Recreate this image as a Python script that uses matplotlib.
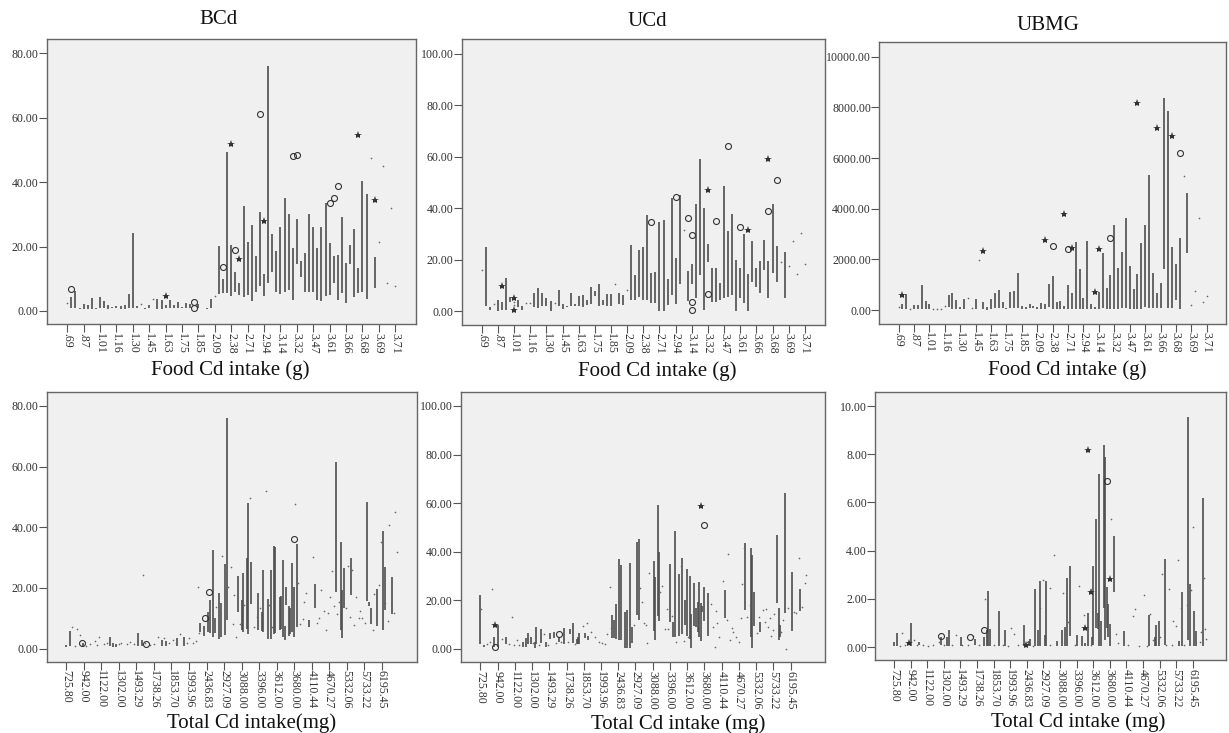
# -*- coding: utf-8 -*-
import matplotlib
matplotlib.use('Agg')
import matplotlib.pyplot as plt

plt.rcParams['font.family'] = ['Liberation Serif', 'DejaVu Serif']

W, H = 1229, 733

food_labels = ['.69', '.87', '1.01', '1.16', '1.30', '1.45', '1.63', '1.75', '1.85', '2.09', '2.38',
               '2.71', '2.94', '3.14', '3.32', '3.47', '3.61', '3.66', '3.68', '3.69', '3.71']
total_labels = ['725.80', '942.00', '1122.00', '1302.00', '1493.29', '1738.26', '1853.70', '1993.96',
                '2436.83', '2927.09', '3088.00', '3396.00', '3612.00', '3680.00', '4110.44', '4670.27',
                '5332.06', '5733.22', '6195.45']

# (category, low, high)
bcd_food_bars = [(1, .8, 4.3), (2, .8, 6.2), (3, .7, 1), (4, .5, 2.3), (5, .5, 2), (6, .5, 4), (7, .5, 1),
                 (8, .8, 4.2), (9, 1, 3.2), (10, .5, 2), (11, 1, 1.2), (12, 1, 1.5), (13, .5, 1.5), (14, .5, 1.8),
                 (15, 1, 5.2), (16, 1, 24.3), (17, .8, 1.5), (19, .7, 1), (20, .8, 1.8), (22, .7, 3.8), (23, .7, 3.5),
                 (24, .8, 1.8), (25, 1, 3.5), (26, 1, 2), (27, 1, 2.8), (28, 1, 1.2), (29, 1, 2.6), (30, .8, 2.3),
                 (32, .8, 2.3), (33, .5, .7), (34, .7, 1), (35, 1, 3.7), (37, 5.2, 20.2), (38, 5.5, 10), (39, 5.5, 49.5),
                 (40, 4.5, 20.5), (41, 6, 12), (42, 5, 8.8), (43, 4.2, 32.5), (44, 5, 21.3), (45, 3.2, 26.8),
                 (46, 5.8, 17), (47, 7.8, 30.6), (48, 4.7, 11.6), (49, 8.7, 76), (50, 12, 23.8), (51, 6, 18.5),
                 (52, 5.3, 26), (53, 6, 35), (54, 6.5, 30), (55, 3.5, 19.6), (56, 14.5, 28.6), (57, 10.5, 15.4),
                 (58, 6, 18), (59, 6, 30), (60, 5.8, 26), (61, 3.5, 19.5), (62, 3, 26), (63, 4.5, 33.7), (64, 5, 21),
                 (65, 8.8, 17), (66, 3.5, 17.4), (67, 5.7, 29.2), (68, 2.5, 14.8), (69, 14.5, 20.4), (70, 4.3, 25.6),
                 (71, 5.5, 13.5), (72, 5.8, 40.5), (73, 3.8, 36.2), (75, 7, 16.7)]
bcd_food_dots = [(0, 2.5), (18, 2.3), (21, 3.7), (36, 4.8), (74, 47.5), (76, 21.3), (77, 45), (78, 8.6), (79, 32), (80, 7.9)]
bcd_food_circles = [(1, 6.7), (31, 2.9), (31, .8), (38, 13.8), (41, 18.8), (47, 61.2), (55, 48), (56, 48.5),
                    (64, 33.5), (65, 35.2), (66, 38.7)]
bcd_food_stars = [(24, 4.8), (40, 52), (42, 16), (48, 27.8), (71, 54.8), (75, 34.4)]

ucd_food_bars = [(1, 2, 25), (2, .5, 1.5), (4, .3, 4.5), (5, .5, 3.5), (6, .5, 13), (7, 3.5, 5.5), (9, 1.5, 4.5),
                 (10, .5, 2), (13, 1.5, 7), (14, 1.3, 9), (15, 2, 7), (16, 2, 5), (17, .2, 4), (19, 2, 8.3), (20, 1, 3),
                 (21, 1.5, 2), (22, 2, 7), (23, 2, 3), (24, 2, 6), (25, 1.8, 6.2), (26, 2.3, 4.5), (27, 2.8, 9.5),
                 (28, 6, 8), (29, 2.2, 10.8), (30, 2.5, 4.5), (31, 2, 6.7), (32, 2, 6.8), (34, 2.8, 7.3), (35, 2.5, 6.5),
                 (37, 4.5, 25.7), (38, 4.5, 14), (39, 5.5, 23.8), (40, 4.5, 25), (41, 4.5, 37.2), (42, 3.3, 15),
                 (43, 3.3, 15.2), (44, .3, 34.5), (45, .3, 35.5), (46, 2.5, 12.5), (47, 6.2, 43.8), (48, 3, 20.8),
                 (49, 10.7, 45.3), (51, 4.2, 15.7), (52, 10.5, 18.5), (53, 5, 41.7), (54, 14, 59.2), (55, .5, 40),
                 (56, 19, 26), (57, 3.5, 17), (58, 3.5, 16.8), (59, 4.5, 11), (60, 5, 48.7), (61, 5.5, 31), (62, 6.5, 37.7),
                 (63, 0, 20), (64, 5.3, 17), (65, 3.2, 30.2), (66, .3, 14.3), (67, 11.2, 27.3), (68, 9.5, 17), (69, 7, 19.5),
                 (70, 16, 27.5), (71, 5, 19.5), (72, 15, 41.5), (73, 11.5, 25.3), (75, 5.3, 23)]
ucd_food_dots = [(0, 16), (3, 3), (8, 2.5), (8, 3.5), (11, 3.3), (12, 3.3), (18, 3.2), (33, 10.5), (36, 8.3), (50, 31.5),
                 (74, 19), (76, 17.7), (77, 27.2), (78, 14.5), (79, 30.5), (80, 18.3)]
ucd_food_circles = [(42, 34.7), (48, 44.3), (51, 36.2), (52, 29.5), (52, 3.6), (52, .6), (56, 6.7), (58, 34.9),
                    (61, 64), (64, 32.8), (71, 38.9), (73, 51)]
ucd_food_stars = [(5, 10), (8, 5), (8, .6), (56, 47), (66, 31.5), (71, 59)]

ubmg_food_bars = [(1, 30, 220), (2, 30, 630), (4, 30, 180), (5, 30, 200), (6, 30, 1000), (7, 50, 350), (8, 50, 230),
                  (13, 100, 600), (14, 50, 680), (15, 50, 380), (16, 30, 130), (17, 50, 420), (20, 30, 430), (22, 50, 330),
                  (23, 20, 100), (24, 50, 420), (25, 70, 680), (26, 70, 800), (27, 70, 300), (28, 30, 80), (29, 70, 730),
                  (30, 70, 750), (31, 80, 1480), (32, 60, 150), (33, 40, 100), (34, 80, 250), (35, 70, 150), (36, 50, 110),
                  (37, 60, 260), (38, 50, 250), (39, 100, 1030), (40, 50, 1360), (41, 50, 320), (42, 50, 370), (43, 30, 150),
                  (44, 30, 980), (45, 50, 690), (46, 60, 2700), (47, 40, 1600), (48, 50, 480), (49, 50, 2720), (50, 50, 250),
                  (51, 40, 120), (52, 50, 700), (53, 70, 2250), (54, 60, 850), (55, 60, 1380), (56, 60, 3340), (57, 60, 1640),
                  (58, 80, 2280), (59, 80, 3630), (60, 60, 1750), (61, 60, 830), (62, 60, 1430), (63, 60, 2630), (64, 120, 3340),
                  (65, 80, 5320), (66, 70, 1480), (67, 70, 680), (68, 70, 1060), (69, 1600, 8370), (70, 80, 7870), (71, 80, 2500),
                  (72, 400, 1800), (73, 40, 2840), (75, 2270, 4620)]
ubmg_food_dots = [(0, 100), (3, 50), (9, 50), (10, 30), (11, 40), (12, 150), (18, 480), (19, 80), (21, 1980), (74, 5280),
                  (76, 200), (77, 750), (78, 3620), (79, 330), (80, 550)]
ubmg_food_circles = [(40, 2530), (44, 2390), (55, 2850), (73, 6200)]
ubmg_food_stars = [(1, 600), (22, 2330), (38, 2770), (43, 3800), (45, 2440), (51, 700), (52, 2390), (62, 8170), (67, 7200), (71, 6880)]

bcd_total_bars = [(0, .5, 1.3), (3, .9, 5.8), (15, .5, 2), (40, 1, 4), (43, .5, 2), (45, .5, 1.5), (65, 1, 5), (69, 1, 3),
                  (87, 1, 3), (91, 1, 2.5), (101, 1, 3.5), (107, 1, 4), (122, 5.5, 8.5), (126, 4.3, 7.5), (129, 5.5, 12),
                  (131, 5, 16.2), (134, 4, 32.5), (136, 5, 10), (139, 3.2, 18.3), (141, 4, 15.2), (145, 4.6, 27.8),
                  (147, 9.5, 76), (157, 12, 23.8), (160, 6, 16), (161, 5.5, 25), (165, 6.5, 30), (166, 4.7, 48),
                  (169, 14.7, 28.6), (175, 6.2, 18.2), (179, 5.8, 12.2), (180, 5.5, 26), (184, 3.3, 16.5), (187, 3.3, 26),
                  (190, 4.7, 33.7), (191, 5, 33.5), (195, 6, 17), (196, 6.5, 17.5), (198, 4, 29.2), (200, 2.7, 7.5),
                  (201, 14.5, 20.4), (203, 4.3, 14), (204, 4.7, 13.5), (206, 5.5, 28.2), (208, 3.7, 20.2), (211, 7, 34.5),
                  (222, 7, 9.3), (227, 13.5, 21.3), (246, 18.7, 61.5), (251, 6.2, 35), (252, 3.5, 19.2), (254, 13.5, 26.7),
                  (260, 17.7, 30), (275, 15.7, 48.5), (276, 14, 15.5), (278, 8, 13.3), (284, 7.5, 19.5), (289, 6.3, 38.8),
                  (291, 12.7, 27), (297, 11.5, 23.5)]
bcd_total_dots = [(5, 7), (10, 6.4), (12, 4.4), (8, 1), (18, 1), (22, 1.5), (26, 2.5), (28, 1.2), (30, 4), (34, 1.5), (37, 2),
                  (48, 1.5), (50, 2), (55, 1.5), (58, 2.2), (62, 1.5), (70, 24.4), (72, 2), (76, 1.2), (80, 1.5), (84, 4), (89, 3.5),
                  (94, 2), (97, 3), (100, 2), (104, 4.8), (110, 2), (112, 3.5), (116, 1.8), (118, 2.5), (120, 20.2), (121, 5), (142, 30.6),
                  (137, 13.6), (150, 26.8), (148, 20.4), (153, 17.7), (152, 8), (155, 3.7), (159, 8), (162, 14.4), (168, 49.5),
                  (171, 7), (174, 10.5), (177, 13.5), (182, 52), (185, 14.5), (188, 7), (209, 47.7), (212, 21.5), (213, 8), (216, 9.7),
                  (217, 15.3), (219, 18.5), (225, 30.3), (229, 8.6), (233, 19.3), (231, 10), (235, 12.5), (237, 6.2), (239, 11.6),
                  (241, 17), (243, 25.6), (244, 14), (247, 11.4), (249, 15.5), (255, 13.5), (257, 27.2), (259, 10.5), (261, 26),
                  (263, 7.8), (265, 17), (268, 12.5), (267, 10), (270, 10), (273, 8.4), (280, 6), (281, 18), (286, 21), (287, 35.3),
                  (291, 15), (294, 9), (295, 40.6), (300, 45.2), (302, 32), (299, 11.6)]
bcd_total_circles = [(14, 2), (73, 1.5), (127, 10), (130, 18.8), (208, 36.2)]
bcd_total_stars = []

ucd_total_bars = [(0, 2, 22), (3, 1, 1.8), (13, 1, 4.8), (16, 1, 9.7), (24, 2, 5), (40, 1, 3), (42, 1, 4.5), (44, 2, 6.6),
                  (47, 2, 5), (51, .5, 3), (52, 2, 9.2), (56, 2.5, 8), (61, 1, 3), (65, 4, 6.5), (68, 4.5, 6.8), (73, 3, 5),
                  (78, 2, 8.5), (83, 6, 8), (86, 2.5, 10.8), (90, 2, 4), (91, 2, 5), (92, 2, 6.5), (97, 4.5, 6.5), (100, 3.5, 5.5),
                  (122, 4.5, 14), (124, 4.5, 12), (126, 4, 18.5), (129, 3.7, 37), (131, 3.5, 34.7), (134, .2, 15.2), (136, .2, 16),
                  (139, .2, 35.5), (141, 2.3, 9.2), (145, 14, 44.2), (147, 12, 45.3), (161, 7.5, 36.2), (162, 3.5, 29.5),
                  (165, 13.5, 59.2), (166, 11.5, 40), (176, 11, 35), (179, 5, 11), (181, 5, 48.7), (184, 5.5, 31), (187, 6.2, 37.6),
                  (190, 10, 20), (192, 5.5, 32.7), (195, 4, 30.2), (196, .3, 14.2), (198, 9.5, 27.3), (200, 9, 17), (202, 7, 19.5),
                  (203, 5, 27.5), (205, 3.3, 19), (206, 15, 17.5), (208, 11.5, 25.3), (211, 5.3, 23), (227, 12.7, 24.3),
                  (246, 16, 43.5), (251, 5, 41.5), (252, .5, 38.7), (254, 9.5, 23.3), (260, 7, 11), (275, 19, 47), (277, 3.5, 17),
                  (278, 5, 9.7), (283, 14.8, 64), (289, 7.3, 31.7), (297, 15.7, 24.7)]
ucd_total_dots = [(1, 16.3), (11, 24.8), (29, 13), (6, 2), (9, 3), (20, 4), (27, 2), (31, 1.8), (34, 3.5), (36, 1.5), (49, 2.5), (54, 1.5),
                  (59, 6), (63, 1.5), (70, 2.5), (75, 3), (81, 3), (88, 2), (95, 9.5), (99, 10.5), (103, 7), (106, 5), (110, 3),
                  (113, 2.5), (116, 2), (118, 6), (120, 25.6), (121, 8.5), (157, 31.4), (150, 19.5), (148, 25), (143, 10), (152, 10.8),
                  (154, 10), (155, 2.3), (169, 25.7), (167, 23.6), (173, 16.5), (171, 8), (174, 8), (178, 13.5), (182, 3), (186, 34),
                  (189, 3.4), (193, 5), (214, 18.4), (216, 9.2), (218, .7), (219, 15.6), (220, 10.5), (222, 5), (225, 28), (229, 12),
                  (230, 39), (232, 3.7), (234, 8.5), (235, 7), (237, 5), (240, 3), (242, 12.6), (243, 26.6), (245, 41.4), (248, 13.3),
                  (250, 18.1), (257, 6.7), (259, 13.3), (262, 16), (265, 16.5), (264, 11), (267, 9), (269, 12.6), (270, 5.5), (273, 14.4),
                  (272, 7.8), (279, 7), (281, 12), (284, 0), (286, 16.7), (291, 15), (293, 14.7), (296, 37.6), (299, 17.4), (301, 27.3),
                  (302, 30.4)]
ucd_total_circles = [(14, .6), (73, 6), (208, 51)]
ucd_total_stars = [(14, 10), (205, 59)]

ubmg_total_bars = [(0, .05, .2), (3, .05, .6), (16, .05, 1), (24, .1, .2), (45, .1, .4), (51, .05, .4), (53, .05, .7), (65, .05, .4),
                   (78, .1, .35), (87, .05, .4), (90, .05, .7), (91, .05, 2.33), (93, .05, .75), (101, .05, 1.48), (107, .05, .7),
                   (125, .05, .93), (130, .05, .25), (131, .05, .35), (136, .05, 2.42), (139, .05, .7), (141, .05, 2.72), (146, .05, .48),
                   (147, .05, 2.72), (157, .05, .25), (162, .05, .7), (165, .05, .85), (167, .05, 2.85), (170, .45, 3.35), (176, .05, .5),
                   (181, .05, .45), (184, .05, .15), (187, .05, 1.43), (191, .1, .4), (192, .1, 3.35), (195, .8, 5.32), (197, .75, 1.43),
                   (198, .05, 7.2), (200, .05, 1.07), (202, 1.6, 8.37), (203, .3, 7.87), (205, .8, 2.5), (206, .4, 1.8), (208, .05, .95),
                   (212, 2.27, 4.62), (222, .05, .68), (246, .05, 1.33), (252, .05, .4), (253, .05, .93), (255, .05, 1.1), (261, .1, 3.65),
                   (275, .05, .25), (278, .05, 2.27), (283, .3, 9.55), (285, .05, 2.62), (289, .05, 1.48), (291, .05, .65), (298, .05, 6.2)]
ubmg_total_dots = [(8, .6), (88, 1.98), (154, 3.82), (150, 2.47), (144, 2.78), (141, 1.6), (163, 2.23), (168, 1.02), (178, 2.55), (183, 1.33),
                   (209, 5.3), (214, .54), (230, 1.3), (232, 1.56), (241, 2.14), (247, 1.38), (258, 3.04), (265, 2.4), (269, 1.1), (272, .87),
                   (274, 3.62), (277, 1.6), (282, 1.76), (286, 2.37), (288, 5), (299, 2.85), (300, .76), (296, .63), (301, .35),
                   (6, .05), (11, .1), (19, .3), (22, .1), (28, .08), (33, .05), (38, .1), (43, .2), (48, .1), (56, .1), (60, .5), (66, .1),
                   (71, .1), (76, .45), (82, .08), (96, .1), (105, .1), (110, .05), (113, .77), (116, .55), (120, .1), (128, .2), (134, .05),
                   (150, .1), (174, .1), (190, .1), (216, .15), (226, .1), (236, .05), (244, .05), (250, .3), (256, .4), (262, .1), (268, .1),
                   (280, .1), (295, .2)]
ubmg_total_circles = [(45, .45), (73, .4), (87, .72), (205, 6.9)]
ubmg_total_stars = [(14, .15), (127, .08), (184, .8), (187, 8.17), (190, 2.3), (208, 2.82)]

panels = [
    dict(box=(46.7, 39, 415.7, 324.3), ylim=(-4.14, 84.5), yticks=[0, 20, 40, 60, 80], fmt='%.2f', labels=food_labels, step=4, xlim=(-5, 85),
         bars=bcd_food_bars, dots=bcd_food_dots, circles=bcd_food_circles, stars=bcd_food_stars),
    dict(box=(461.7, 39, 825, 325), ylim=(-5.3, 105.7), yticks=[0, 20, 40, 60, 80, 100], fmt='%.2f', labels=food_labels, step=4, xlim=(-5, 85),
         bars=ucd_food_bars, dots=ucd_food_dots, circles=ucd_food_circles, stars=ucd_food_stars),
    dict(box=(879.3, 42, 1226, 323.7), ylim=(-540, 10580), yticks=[0, 2000, 4000, 6000, 8000, 10000], fmt='%.2f', labels=food_labels, step=4, xlim=(-5, 85),
         bars=ubmg_food_bars, dots=ubmg_food_dots, circles=ubmg_food_circles, stars=ubmg_food_stars),
    dict(box=(46.7, 392.3, 416.7, 661.7), ylim=(-4.3, 84.5), yticks=[0, 20, 40, 60, 80], fmt='%.2f', labels=total_labels, step=16, xlim=(-18, 320),
         bars=bcd_total_bars, dots=bcd_total_dots, circles=bcd_total_circles, stars=bcd_total_stars),
    dict(box=(461, 392.3, 825, 662.3), ylim=(-5.5, 105.6), yticks=[0, 20, 40, 60, 80, 100], fmt='%.2f', labels=total_labels, step=16, xlim=(-18, 320),
         bars=ucd_total_bars, dots=ucd_total_dots, circles=ucd_total_circles, stars=ucd_total_stars),
    dict(box=(875.3, 392.3, 1226, 660.3), ylim=(-.55, 10.57), yticks=[0, 2, 4, 6, 8, 10], fmt='%.2f', labels=total_labels, step=16, xlim=(-18, 320),
         bars=ubmg_total_bars, dots=ubmg_total_dots, circles=ubmg_total_circles, stars=ubmg_total_stars),
]

fig = plt.figure(figsize=(W / 100, H / 100), dpi=100, facecolor='white')

for p in panels:
    x0, y0, x1, y1 = p['box']
    ax = fig.add_axes([x0 / W, 1 - y1 / H, (x1 - x0) / W, (y1 - y0) / H], facecolor='#f0f0f0')
    for c, lo, hi in p['bars']:
        ax.plot([c, c], [lo, hi], color='#4d4d4d', lw=1.2, solid_capstyle='butt')
    if p['dots']:
        ax.plot([d[0] for d in p['dots']], [d[1] for d in p['dots']], ls='none', marker='o', ms=1.2, mew=0, color='#666666')
    if p['circles']:
        ax.plot([d[0] for d in p['circles']], [d[1] for d in p['circles']], ls='none', marker='o', ms=4.3, mfc='none', mew=.8, color='#333333')
    if p['stars']:
        ax.plot([d[0] for d in p['stars']], [d[1] for d in p['stars']], ls='none', marker='*', ms=6, mew=0, color='#333333')
    ax.set_xlim(*p['xlim'])
    ax.set_ylim(*p['ylim'])
    ax.set_xticks(range(0, len(p['labels']) * p['step'], p['step']))
    ax.set_xticklabels(p['labels'], rotation=-90, fontsize=8.6, color='#333333')
    ax.set_yticks(p['yticks'])
    ax.set_yticklabels([p['fmt'] % v for v in p['yticks']], fontsize=8.6, color='#333333')
    ax.tick_params(axis='both', length=5.5, width=.8, color='#555555', pad=.5)
    for s in ax.spines.values():
        s.set_color('#666666')
        s.set_linewidth(1)

# titles and axis names
for txt, x, y in [('BCd', 218, 19), ('UCd', 647, 21), ('UBMG', 1048, 25)]:
    fig.text(x / W, 1 - y / H, txt, ha='center', va='center', fontsize=15, color='#111111')
for txt, x, y in [('Food Cd intake (g)', 230, 370), ('Food Cd intake (g)', 657, 371), ('Food Cd intake (g)', 1067, 370),
                  ('Total Cd intake(mg)', 252, 723), ('Total Cd intake (mg)', 678, 724), ('Total Cd intake (mg)', 1078, 722)]:
    fig.text(x / W, 1 - y / H, txt, ha='center', va='center', fontsize=15, color='#111111')

fig.savefig('out.png', dpi=100)
